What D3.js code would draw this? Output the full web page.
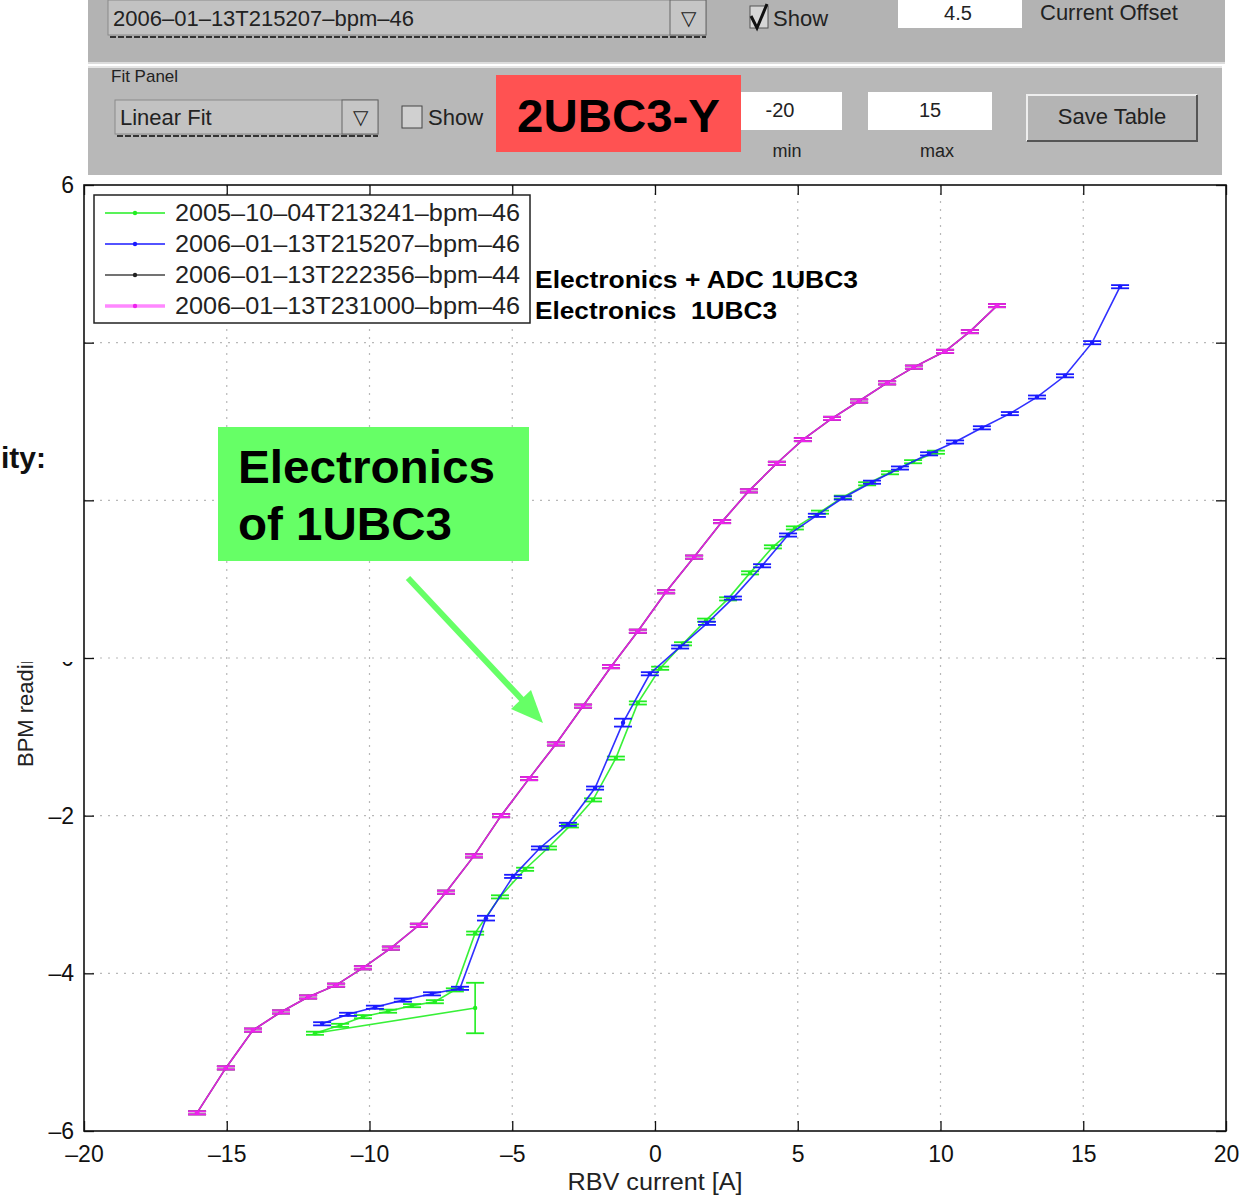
<!DOCTYPE html>
<html>
<head>
<meta charset="utf-8">
<script src="https://cdn.jsdelivr.net/npm/d3@7"></script>
<style>
  html, body { margin: 0; padding: 0; background: #fff; }
  svg { display: block; }
  text { font-family: "Liberation Sans", Arial, Helvetica, sans-serif; }
</style>
</head>
<body>
<svg id="chart" width="1250" height="1195"></svg>
<script>
// ---- axis ticks ----
const xTicks = [-20, -15, -10, -5, 0, 5, 10, 15, 20];
const yTicks = [-6, -4, -2, 0, 2, 4, 6];

// ---- series names ----
const seriesNames = [
  "2005\u201310\u201304T213241\u2013bpm\u201346",
  "2006\u201301\u201313T215207\u2013bpm\u201346",
  "2006\u201301\u201313T222356\u2013bpm\u201344",
  "2006\u201301\u201313T231000\u2013bpm\u201346"
];

// 2005-10-04T213241-bpm-46 (first reading taken at -6.3 A)
const greenCurrent = [-6.30, -11.91, -11.03, -10.23, -9.35, -8.51, -7.71, -7.01, -6.30, -5.43, -4.55, -3.75,
  -2.98, -2.17, -1.37, -0.60, 0.18, 0.98, 1.79, 2.56, 3.33, 4.13, 4.90, 5.78, 6.58, 7.43, 8.23, 9.04, 9.84];
const greenReading = [-4.44, -4.76, -4.66, -4.55, -4.48, -4.41, -4.36, -4.21, -3.49, -3.03, -2.68, -2.41,
  -2.13, -1.80, -1.27, -0.57, -0.13, 0.18, 0.48, 0.75, 1.08, 1.41, 1.65, 1.85, 2.04, 2.21, 2.35, 2.49, 2.61];
const greenError = [0.32, 0.02, 0.02, 0.02, 0.02, 0.02, 0.02, 0.02, 0.02, 0.02, 0.02, 0.02,
  0.02, 0.02, 0.02, 0.02, 0.02, 0.02, 0.02, 0.02, 0.02, 0.02, 0.02, 0.02, 0.02, 0.02, 0.02, 0.02, 0.02];

// 2006-01-13T215207-bpm-46
const blueCurrent = [-11.66, -10.75, -9.81, -8.83, -7.81, -6.83, -5.92, -4.97, -4.03, -3.05, -2.10, -1.12,
  -0.18, 0.88, 1.82, 2.73, 3.75, 4.66, 5.67, 6.58, 7.60, 8.58, 9.60, 10.51, 11.45, 12.43, 13.38, 14.36, 15.31, 16.29];
const blueReading = [-4.64, -4.52, -4.43, -4.34, -4.26, -4.19, -3.30, -2.77, -2.41, -2.11, -1.65, -0.82,
  -0.20, 0.14, 0.44, 0.76, 1.17, 1.56, 1.81, 2.03, 2.23, 2.41, 2.59, 2.74, 2.92, 3.10, 3.31, 3.58, 4.00, 4.71];
const blueError = [0.02, 0.02, 0.02, 0.02, 0.02, 0.02, 0.03, 0.02, 0.02, 0.02, 0.02, 0.05,
  0.02, 0.02, 0.02, 0.02, 0.02, 0.02, 0.02, 0.02, 0.02, 0.02, 0.02, 0.02, 0.02, 0.02, 0.02, 0.02, 0.02, 0.02];

// 2006-01-13T222356-bpm-44
const blackCurrent = [-16.04, -15.03, -14.08, -13.10, -12.15, -11.17, -10.23, -9.25, -8.27, -7.32, -6.34, -5.39,
  -4.41, -3.47, -2.52, -1.54, -0.60, 0.39, 1.37, 2.35, 3.29, 4.27, 5.18, 6.20, 7.15, 8.13, 9.07, 10.16, 11.03, 11.98];
const blackReading = [-5.77, -5.20, -4.72, -4.49, -4.30, -4.15, -3.93, -3.68, -3.39, -2.97, -2.51, -2.00,
  -1.53, -1.09, -0.61, -0.11, 0.34, 0.84, 1.28, 1.73, 2.12, 2.47, 2.77, 3.04, 3.26, 3.49, 3.69, 3.89, 4.14, 4.47];

// 2006-01-13T231000-bpm-46
const magentaCurrent = [-16.04, -15.03, -14.08, -13.10, -12.15, -11.17, -10.23, -9.25, -8.27, -7.32, -6.34, -5.39,
  -4.41, -3.47, -2.52, -1.54, -0.60, 0.39, 1.37, 2.35, 3.29, 4.27, 5.18, 6.20, 7.15, 8.13, 9.07, 10.16, 11.03, 11.98];
const magentaReading = [-5.77, -5.20, -4.72, -4.49, -4.30, -4.15, -3.93, -3.68, -3.39, -2.97, -2.51, -2.00,
  -1.53, -1.09, -0.61, -0.11, 0.34, 0.84, 1.28, 1.73, 2.12, 2.47, 2.77, 3.04, 3.26, 3.49, 3.69, 3.89, 4.14, 4.47];
const pairError = [0.02, 0.02, 0.02, 0.02, 0.02, 0.02, 0.02, 0.02, 0.02, 0.02, 0.02, 0.02,
  0.02, 0.02, 0.02, 0.02, 0.02, 0.02, 0.02, 0.02, 0.02, 0.02, 0.02, 0.02, 0.02, 0.02, 0.02, 0.02, 0.02, 0.02];

const seriesColors = ["#22ee22", "#1a1aff", "#222222", "#ee22ee"];
const legendColors = ["#22ee22", "#1a1aff", "#444444", "#ff88ff"];

const svg = d3.select("#chart");

// ---------- control panel strip ----------
const gui = svg.append("g");
gui.append("rect").attr("x", 88).attr("y", 0).attr("width", 1137).attr("height", 62).attr("fill", "#b3b3b3");
gui.append("line").attr("x1", 88).attr("x2", 1225).attr("y1", 63).attr("y2", 63).attr("stroke", "#dcdcdc").attr("stroke-width", 2);
gui.append("rect").attr("x", 88).attr("y", 66).attr("width", 1134).attr("height", 109).attr("fill", "#b8b8b8");
gui.append("line").attr("x1", 88).attr("x2", 1222).attr("y1", 67).attr("y2", 67).attr("stroke", "#e6e6e6").attr("stroke-width", 2);

function dropdown(x0, y0, w, h, label) {
  gui.append("rect").attr("x", x0).attr("y", y0).attr("width", w).attr("height", h)
    .attr("fill", "#c2c2c2").attr("stroke", "#8a8a8a");
  gui.append("rect").attr("x", x0 + w - 36).attr("y", y0).attr("width", 36).attr("height", h)
    .attr("fill", "#c6c6c6").attr("stroke", "#666");
  gui.append("text").attr("x", x0 + w - 18).attr("y", y0 + h / 2 + 7).attr("text-anchor", "middle")
    .attr("font-size", 20).attr("fill", "#222").text("\u25BD");
  gui.append("line").attr("x1", x0 + 2).attr("x2", x0 + w).attr("y1", y0 + h + 2).attr("y2", y0 + h + 2)
    .attr("stroke", "#333").attr("stroke-width", 2).attr("stroke-dasharray", "6,2");
  gui.append("text").attr("x", x0 + 5).attr("y", y0 + h / 2 + 8).attr("font-size", 22).attr("fill", "#222").text(label);
}
dropdown(108, 0, 598, 35, "2006\u201301\u201313T215207\u2013bpm\u201346");
dropdown(115, 100, 263, 34, "Linear Fit");

// checkboxes
gui.append("rect").attr("x", 750).attr("y", 6).attr("width", 18).attr("height", 22).attr("fill", "#d6d6d6").attr("stroke", "#555");
gui.append("path").attr("d", "M751,16 L757,28 L767,4").attr("fill", "none").attr("stroke", "#111").attr("stroke-width", 3);
gui.append("text").attr("x", 773).attr("y", 26).attr("font-size", 22).attr("fill", "#222").text("Show");
gui.append("rect").attr("x", 402).attr("y", 106).attr("width", 20).attr("height", 22).attr("fill", "#d0d0d0").attr("stroke", "#444");
gui.append("text").attr("x", 428).attr("y", 125).attr("font-size", 22).attr("fill", "#222").text("Show");

// edit fields
gui.append("rect").attr("x", 898).attr("y", 0).attr("width", 124).attr("height", 28).attr("fill", "#fff");
gui.append("text").attr("x", 958).attr("y", 20).attr("text-anchor", "middle").attr("font-size", 20).attr("fill", "#222").text("4.5");
gui.append("text").attr("x", 1040).attr("y", 20).attr("font-size", 22).attr("fill", "#222").text("Current Offset");
gui.append("text").attr("x", 111).attr("y", 82).attr("font-size", 17).attr("fill", "#222").text("Fit Panel");

gui.append("rect").attr("x", 741).attr("y", 92).attr("width", 101).attr("height", 38).attr("fill", "#fff");
gui.append("text").attr("x", 780).attr("y", 117).attr("text-anchor", "middle").attr("font-size", 20).attr("fill", "#222").text("-20");
gui.append("rect").attr("x", 868).attr("y", 92).attr("width", 124).attr("height", 38).attr("fill", "#fff");
gui.append("text").attr("x", 930).attr("y", 117).attr("text-anchor", "middle").attr("font-size", 20).attr("fill", "#222").text("15");
gui.append("text").attr("x", 787).attr("y", 157).attr("text-anchor", "middle").attr("font-size", 18).attr("fill", "#222").text("min");
gui.append("text").attr("x", 937).attr("y", 157).attr("text-anchor", "middle").attr("font-size", 18).attr("fill", "#222").text("max");

// Save Table button
gui.append("rect").attr("x", 1027).attr("y", 95).attr("width", 170).attr("height", 46).attr("fill", "#b4b4b4");
gui.append("path").attr("d", "M1027,141 L1027,95 L1197,95").attr("fill", "none").attr("stroke", "#eee").attr("stroke-width", 2);
gui.append("path").attr("d", "M1027,141 L1197,141 L1197,95").attr("fill", "none").attr("stroke", "#555").attr("stroke-width", 2);
gui.append("text").attr("x", 1112).attr("y", 124).attr("text-anchor", "middle").attr("font-size", 22).attr("fill", "#222").text("Save Table");

// Plane label
gui.append("rect").attr("x", 496).attr("y", 75).attr("width", 245).attr("height", 77).attr("fill", "#ff5252");
gui.append("text").attr("x", 517).attr("y", 132).attr("font-size", 46).attr("font-weight", "bold")
  .attr("textLength", 203).attr("lengthAdjust", "spacingAndGlyphs").attr("fill", "#000").text("2UBC3-Y");

// ---------- plot ----------
const pLeft = 84, pRight = 1226, pTop = 185, pBottom = 1131;
const x = d3.scaleLinear().domain([-20, 20]).range([pLeft, pRight]);
const y = d3.scaleLinear().domain([-6, 6]).range([pBottom, pTop]);

const plot = svg.append("g");
plot.append("rect").attr("x", pLeft).attr("y", pTop).attr("width", pRight - pLeft).attr("height", pBottom - pTop).attr("fill", "#fff");

// dotted grid
plot.append("g").selectAll("line").data(xTicks.slice(1, -1)).join("line")
  .attr("x1", d => x(d)).attr("x2", d => x(d)).attr("y1", pTop).attr("y2", pBottom)
  .attr("stroke", "#b8b8b8").attr("stroke-width", 1.2).attr("stroke-dasharray", "2,6");
plot.append("g").selectAll("line").data(yTicks.slice(1, -1)).join("line")
  .attr("x1", pLeft).attr("x2", pRight).attr("y1", d => y(d)).attr("y2", d => y(d))
  .attr("stroke", "#b8b8b8").attr("stroke-width", 1.2).attr("stroke-dasharray", "2,6");

const fmt = d => d < 0 ? "\u2013" + Math.abs(d) : String(d);

const xAxis = plot.append("g").attr("transform", `translate(0,${pBottom})`)
  .call(d3.axisBottom(x).tickValues(xTicks).tickSizeInner(-10).tickSizeOuter(0).tickPadding(18).tickFormat(fmt));
const yAxis = plot.append("g").attr("transform", `translate(${pLeft},0)`)
  .call(d3.axisLeft(y).tickValues(yTicks).tickSizeInner(-10).tickSizeOuter(0).tickPadding(10).tickFormat(fmt));
plot.append("g").attr("transform", `translate(0,${pTop})`)
  .call(d3.axisTop(x).tickValues(xTicks).tickSizeInner(-10).tickSizeOuter(0).tickFormat(""));
plot.append("g").attr("transform", `translate(${pRight},0)`)
  .call(d3.axisRight(y).tickValues(yTicks).tickSizeInner(-10).tickSizeOuter(0).tickFormat(""));

[xAxis, yAxis].forEach(a => a.selectAll("text").attr("font-size", 23).attr("fill", "#111")
  .attr("font-family", "'Liberation Sans Narrow', 'Liberation Sans', Arial, sans-serif"));
xAxis.selectAll(".tick text").attr("dy", "0.55em");
plot.selectAll(".domain").attr("stroke", "none");
plot.selectAll(".tick line").attr("stroke", "#111").attr("stroke-width", 1.3);
plot.append("rect").attr("x", pLeft).attr("y", pTop).attr("width", pRight - pLeft).attr("height", pBottom - pTop)
  .attr("fill", "none").attr("stroke", "#111").attr("stroke-width", 1.6);

plot.append("text").attr("x", (pLeft + pRight) / 2).attr("y", 1190).attr("text-anchor", "middle")
  .attr("font-size", 23).attr("textLength", 175).attr("lengthAdjust", "spacingAndGlyphs")
  .attr("font-family", "'Liberation Sans Narrow', 'Liberation Sans', Arial, sans-serif")
  .attr("fill", "#222").text("RBV current [A]");

// ---------- series ----------
const allSeries = [
  { cur: greenCurrent, val: greenReading, err: greenError, color: seriesColors[0] },
  { cur: blueCurrent, val: blueReading, err: blueError, color: seriesColors[1] },
  { cur: blackCurrent, val: blackReading, err: pairError, color: seriesColors[2] },
  { cur: magentaCurrent, val: magentaReading, err: pairError, color: seriesColors[3] }
];
const line = d3.line().x(d => x(d[0])).y(d => y(d[1]));
const capHalf = 9;

allSeries.forEach(s => {
  const pts = s.cur.map((c, i) => [c, s.val[i], s.err[i]]);
  const g = plot.append("g");
  g.append("path").datum(pts).attr("d", line).attr("fill", "none")
    .attr("stroke", s.color).attr("stroke-width", 1.6).attr("opacity", 0.9);
  // error bars
  g.selectAll("line.v").data(pts).join("line").attr("class", "v")
    .attr("x1", d => x(d[0])).attr("x2", d => x(d[0]))
    .attr("y1", d => y(d[1] - d[2])).attr("y2", d => y(d[1] + d[2]))
    .attr("stroke", s.color).attr("stroke-width", 1.6);
  [-1, 1].forEach(sg => {
    const cls = sg > 0 ? "cp" : "cm";
    g.selectAll("line." + cls).data(pts).join("line").attr("class", cls)
      .attr("x1", d => x(d[0]) - capHalf).attr("x2", d => x(d[0]) + capHalf)
      .attr("y1", d => y(d[1] + sg * d[2])).attr("y2", d => y(d[1] + sg * d[2]))
      .attr("stroke", s.color).attr("stroke-width", 1.8);
  });
  g.selectAll("circle").data(pts).join("circle")
    .attr("cx", d => x(d[0])).attr("cy", d => y(d[1])).attr("r", 2.2).attr("fill", s.color);
});

// ---------- legend ----------
const leg = plot.append("g");
leg.append("rect").attr("x", 94).attr("y", 195).attr("width", 436).attr("height", 128)
  .attr("fill", "#fff").attr("stroke", "#222").attr("stroke-width", 1.5);
seriesNames.forEach((name, i) => {
  const cy = 213 + i * 31;
  leg.append("line").attr("x1", 105).attr("x2", 165).attr("y1", cy).attr("y2", cy)
    .attr("stroke", legendColors[i]).attr("stroke-width", i === 3 ? 3.5 : 1.6);
  leg.append("circle").attr("cx", 135).attr("cy", cy).attr("r", 2.2).attr("fill", seriesColors[i]);
  leg.append("text").attr("x", 175).attr("y", cy + 8).attr("font-size", 23)
    .attr("textLength", 345).attr("lengthAdjust", "spacingAndGlyphs")
    .attr("fill", "#222").text(name);
});

// ---------- annotations ----------
const ann = svg.append("g");
ann.append("text").attr("x", 535).attr("y", 288).attr("font-size", 24).attr("font-weight", "bold")
  .attr("textLength", 323).attr("lengthAdjust", "spacingAndGlyphs")
  .attr("fill", "#000").text("Electronics + ADC 1UBC3");
ann.append("text").attr("x", 535).attr("y", 319).attr("font-size", 24).attr("font-weight", "bold")
  .attr("textLength", 242).attr("lengthAdjust", "spacingAndGlyphs")
  .attr("fill", "#000").attr("xml:space", "preserve").text("Electronics  1UBC3");

// y label partly hidden behind the page's left text block
ann.append("text").attr("transform", "translate(33,767) rotate(-90)").attr("font-size", 22)
  .attr("font-family", "'Liberation Sans Narrow', 'Liberation Sans', Arial, sans-serif")
  .attr("fill", "#222").text("BPM reading [mm]");
ann.append("rect").attr("x", 0).attr("y", 330).attr("width", 78).attr("height", 332).attr("fill", "#fff");
ann.append("text").attr("x", 1).attr("y", 468).attr("font-size", 30)
  .attr("font-weight", "bold").attr("fill", "#111").text("ity:");

// green call-out box with arrow
ann.append("rect").attr("x", 218).attr("y", 427).attr("width", 311).attr("height", 134).attr("fill", "#66ff66");
ann.append("text").attr("x", 238).attr("y", 483).attr("font-size", 47).attr("font-weight", "bold")
  .attr("textLength", 257).attr("lengthAdjust", "spacingAndGlyphs")
  .attr("fill", "#000").text("Electronics");
ann.append("text").attr("x", 238).attr("y", 540).attr("font-size", 47).attr("font-weight", "bold")
  .attr("textLength", 214).attr("lengthAdjust", "spacingAndGlyphs")
  .attr("fill", "#000").text("of 1UBC3");
ann.append("line").attr("x1", 408).attr("y1", 578).attr("x2", 528).attr("y2", 706)
  .attr("stroke", "#66ff66").attr("stroke-width", 6);
ann.append("path").attr("d", "M543,723 L511,709 L531,690 Z").attr("fill", "#66ff66");
</script>
</body>
</html>
